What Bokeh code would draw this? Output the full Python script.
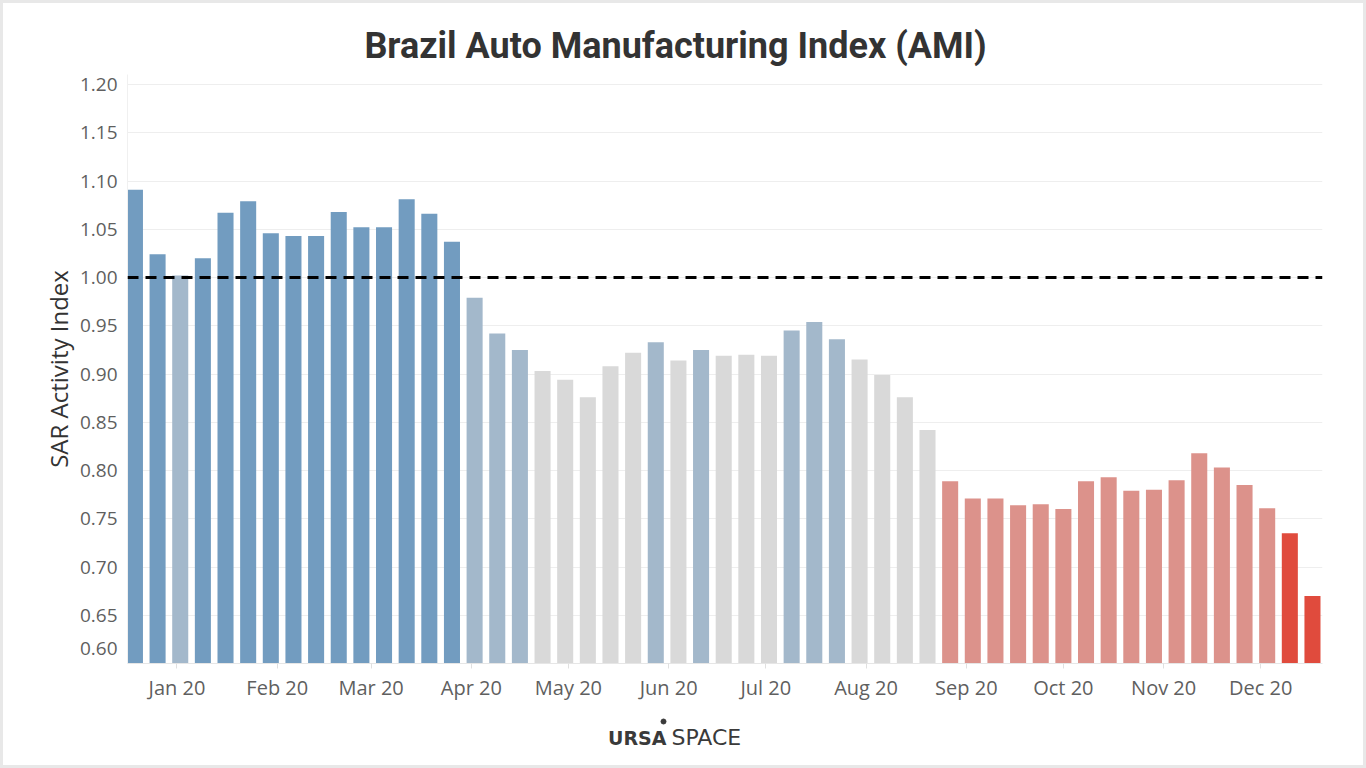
import pandas as pd
from bokeh.plotting import figure
from bokeh.models import ColumnDataSource, FixedTicker, Span, Range1d
from bokeh.core.properties import value
from bokeh.layouts import column
from bokeh.embed import file_html
from bokeh.resources import INLINE

# ---------------- data ----------------
week_start = "2019-12-19"
n_weeks = 53
ami_values = [
    1.091, 1.024, 1.002, 1.020, 1.067, 1.079, 1.046, 1.043, 1.043, 1.068,
    1.052, 1.052, 1.081, 1.066, 1.037,
    0.979, 0.942, 0.925, 0.903, 0.894, 0.876, 0.908, 0.922, 0.933, 0.914,
    0.925, 0.919, 0.920, 0.919, 0.945, 0.954, 0.936, 0.915, 0.899, 0.876,
    0.842,
    0.789, 0.771, 0.771, 0.764, 0.765, 0.760, 0.789, 0.793, 0.779, 0.780,
    0.790, 0.818, 0.803, 0.785, 0.761, 0.735, 0.670,
]
bands = (["high", "high", "mid"] + ["high"] * 12 + ["mid"] * 3 + ["low"] * 5
         + ["mid", "low", "mid"] + ["low"] * 3 + ["mid"] * 3 + ["low"] * 4
         + ["weak"] * 15 + ["worst"] * 2)
band_colors = {"high": "#729cc0", "mid": "#a3b8cb", "low": "#d9d9d9",
               "weak": "#dc928b", "worst": "#e04b3d"}
month_ticks = ["2020-%02d-01" % m for m in range(1, 13)]
month_labels = ["Jan 20", "Feb 20", "Mar 20", "Apr 20", "May 20", "Jun 20",
                "Jul 20", "Aug 20", "Sep 20", "Oct 20", "Nov 20", "Dec 20"]
y_ticks = [0.65, 0.70, 0.75, 0.80, 0.85, 0.90, 0.95, 1.00, 1.05, 1.10, 1.15, 1.20]
y_bottom = 0.60
baseline = 1.0
title_text = "Brazil Auto Manufacturing Index (AMI)"
y_title = "SAR Activity Index"
logo_bold, logo_light = "URSA", "SPACE"

# ---------------- layout constants (page pixels, 3px frame border) ----------
W = 1360
TITLE_H, MAIN_H, LOGO_H = 68, 639, 55
FRAME_L, FRAME_R = 127, 1322   # page x of the (column-aligned) plot frames

# ---------------- title strip ----------------
tfig = figure(width=W, height=TITLE_H, x_range=Range1d(FRAME_L, FRAME_R),
              y_range=Range1d(3 + TITLE_H, 3), x_axis_location=None,
              y_axis_location=None, output_backend="svg",
              toolbar_location=None, min_border=0)
tfig.outline_line_color = None
tfig.grid.visible = False
tfig.text(x=[675], y=[45], text=[title_text], text_align="center",
          text_baseline="middle", text_font=value("Roboto"),
          text_font_style="bold", text_font_size="36px", text_color="#333333")

# ---------------- main chart ----------------
dates = pd.date_range(week_start, periods=n_weeks, freq="7D")
src = ColumnDataSource(dict(x=dates, top=ami_values,
                            color=[band_colors[b] for b in bands]))

DAY = 86400000
x0 = pd.Timestamp("2019-12-19").value // 10**6 - 2.3 * DAY
x1 = pd.Timestamp("2020-12-17").value // 10**6 + 3.1 * DAY

p = figure(width=W, height=MAIN_H, x_axis_type="datetime",
           x_range=Range1d(x0, x1), y_range=Range1d(y_bottom, 1.2104),
           output_backend="svg", toolbar_location=None,
           min_border_left=124, min_border_right=41,
           min_border_top=3, min_border_bottom=47)
p.outline_line_color = None

p.vbar(x="x", top="top", bottom=0.0, width=4.96 * DAY, color="color",
       line_color=None, source=src)

p.add_layout(Span(location=baseline, dimension="width", line_color="black",
                  line_width=3, line_dash="11 7"))

tick_ms = [pd.Timestamp(t).value // 10**6 for t in month_ticks]
p.xaxis.ticker = FixedTicker(ticks=tick_ms)
p.xaxis.major_label_overrides = {t: l for t, l in zip(tick_ms, month_labels)}
p.xaxis.minor_tick_line_color = None
p.xaxis.major_tick_in = 0
p.xaxis.major_tick_out = 5
p.xaxis.major_tick_line_color = "#e0e0e0"
p.xaxis.axis_line_color = "#e6e6e6"
p.xaxis.major_label_text_font = "Open Sans"
p.xaxis.major_label_text_font_size = "20px"
p.xaxis.major_label_text_color = "#5f5f5f"
p.xaxis.major_label_standoff = 5

# the bottom label "0.60" sits a little above the axis line (as in Tableau)
lifted = y_bottom + 15 / 965.0
ax_ticks = [lifted] + y_ticks
labels = {lifted: "%.2f" % y_bottom}
labels.update({t: "%.2f" % t for t in y_ticks})
p.yaxis.ticker = FixedTicker(ticks=ax_ticks)
p.yaxis.major_label_overrides = labels
p.yaxis.minor_tick_line_color = None
p.yaxis.major_tick_line_color = None
p.yaxis.axis_line_color = "#f0f0f0"
p.yaxis.major_label_text_font = "Open Sans"
p.yaxis.major_label_text_font_size = "19px"
p.yaxis.major_label_text_color = "#5f5f5f"
p.yaxis.major_label_standoff = 4
p.yaxis.axis_label = y_title
p.yaxis.axis_label_text_font = "Open Sans"
p.yaxis.axis_label_text_font_size = "24px"
p.yaxis.axis_label_text_font_style = "normal"
p.yaxis.axis_label_text_color = "#333333"
p.yaxis.axis_label_standoff = 2

p.xgrid.grid_line_color = None
p.ygrid.ticker = FixedTicker(ticks=y_ticks)
p.ygrid.grid_line_color = "#eeeeee"
p.ygrid.grid_line_width = 1

# ---------------- logo strip ----------------
top_l = 3 + TITLE_H + MAIN_H
lfig = figure(width=W, height=LOGO_H, x_range=Range1d(FRAME_L, FRAME_R),
              y_range=Range1d(top_l + LOGO_H, top_l), x_axis_location=None,
              y_axis_location=None, output_backend="svg",
              toolbar_location=None, min_border=0)
lfig.outline_line_color = None
lfig.grid.visible = False
lfig.text(x=[666], y=[737], text=[logo_bold], text_align="right",
          text_baseline="middle", text_font=value("DejaVu Sans"),
          text_font_style="bold", text_font_size="19px", text_color="#3a3a3a")
lfig.text(x=[671], y=[737], text=[logo_light], text_align="left",
          text_baseline="middle", text_font=value("DejaVu Sans"),
          text_font_size="22px", text_color="#3a3a3a")
lfig.scatter(x=[663], y=[721], size=5, color="#3a3a3a")

layout = column(tfig, p, lfig, spacing=0,
                styles={"border": "3px solid #e8e8e8"})
open("out.html", "w").write(file_html(layout, INLINE))
